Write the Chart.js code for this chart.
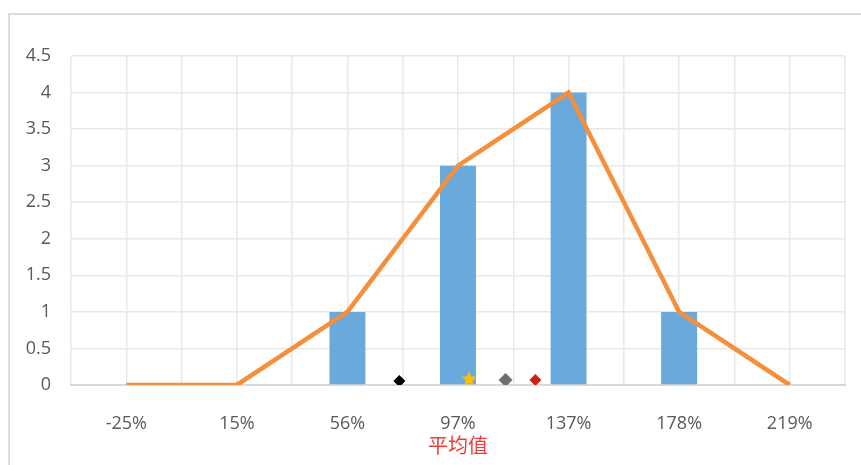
<!DOCTYPE html>
<html>
<head>
<meta charset="utf-8">
<script src="https://cdn.jsdelivr.net/npm/chart.js@4/dist/chart.umd.min.js"></script>
<style>
  html, body { margin: 0; padding: 0; background: #fff; }
  #wrap { position: relative; width: 861px; height: 465px; overflow: hidden; }
  #frame { position: absolute; left: 8px; top: 13px; width: 900px; height: 500px;
           border-left: 2px solid #dcdcdc; border-top: 2px solid #dcdcdc; }
  #chart { position: absolute; left: 0; top: 0; }
</style>
</head>
<body>
<div id="wrap">
  <div id="frame"></div>
  <canvas id="chart" width="861" height="465"></canvas>
</div>
<script>
// category labels and counts
const categories = ['-25%', '15%', '56%', '97%', '137%', '178%', '219%'];
const counts = [0, 0, 1, 3, 4, 1, 0];

// marker positions (x in category index units, y value)
const markerX = [2.47, 3.10, 3.43, 3.70];
const markerY = [0.055, 0.09, 0.07, 0.07];
const markerColors = ['#000000', '#FFC000', '#6f6f6f', '#D01F10'];
const markerStyles = ['rectRot', 'star5', 'rectRot', 'rectRot'];
const markerRadius = [6, 8, 7, 6];

const yTicks = [0, 0.5, 1, 1.5, 2, 2.5, 3, 3.5, 4, 4.5];

function makeStar(color, r) {
  const c = document.createElement('canvas');
  const s = Math.ceil(r * 2) + 2;
  c.width = s; c.height = s;
  const g = c.getContext('2d');
  const cx = s / 2, cy = s / 2 + 0.8;
  g.beginPath();
  for (let i = 0; i < 10; i++) {
    const rad = i % 2 === 0 ? r : r * 0.45;
    const a = -Math.PI / 2 + i * Math.PI / 5;
    const x = cx + rad * Math.cos(a), y = cy + rad * Math.sin(a);
    if (i === 0) g.moveTo(x, y); else g.lineTo(x, y);
  }
  g.closePath();
  g.fillStyle = color;
  g.fill();
  return c;
}

const pointStyles = markerStyles.map((s, i) => s === 'star5' ? makeStar(markerColors[i], markerRadius[i]) : s);

const tickFont = { family: '"Open Sans", sans-serif', size: 18 };

new Chart(document.getElementById('chart'), {
  data: {
    labels: categories,
    datasets: [
      {
        type: 'scatter',
        xAxisID: 'x2',
        yAxisID: 'y',
        order: 0,
        data: markerX.map((x, i) => ({ x: x, y: markerY[i] })),
        pointStyle: pointStyles,
        pointRadius: markerRadius,
        backgroundColor: markerColors,
        borderColor: markerColors,
        borderWidth: 0
      },
      {
        type: 'line',
        xAxisID: 'x',
        order: 1,
        data: counts,
        borderColor: '#F58F3B',
        borderWidth: 4.5,
        pointRadius: 0,
        tension: 0,
        fill: false
      },
      {
        type: 'bar',
        xAxisID: 'x',
        order: 2,
        data: counts,
        backgroundColor: '#6AA9DB',
        grouped: false,
        categoryPercentage: 1,
        barPercentage: 0.325
      }
    ]
  },
  options: {
    responsive: false,
    animation: false,
    layout: { padding: { top: 56, right: 16, left: 0, bottom: 0 } },
    plugins: {
      legend: { display: false },
      tooltip: { enabled: false }
    },
    scales: {
      x: {
        type: 'category',
        position: 'bottom',
        offset: true,
        grid: { display: false },
        border: { display: true, color: '#d9d9d9', width: 2 },
        ticks: { color: '#595959', font: tickFont, padding: 20, maxRotation: 0 },
        title: {
          display: true,
          text: '平均值',
          color: '#F23A3A',
          font: { family: '"Noto Sans CJK SC", sans-serif', size: 20 },
          padding: { top: 0, bottom: 8 }
        },
        afterFit: s => { s.height = 80; }
      },
      x2: {
        type: 'linear',
        position: 'bottom',
        min: -0.5,
        max: 6.5,
        grid: { color: '#e8e8e8', lineWidth: 1.5, drawTicks: false },
        border: { display: false },
        ticks: { display: false, stepSize: 0.5 },
        afterFit: s => { s.height = 0; }
      },
      y: {
        min: 0,
        max: 4.5,
        grid: { color: '#e8e8e8', lineWidth: 1.5, drawTicks: false },
        border: { display: false },
        afterBuildTicks: s => { s.ticks = yTicks.map(v => ({ value: v })); },
        ticks: { color: '#595959', font: tickFont, padding: 20, callback: v => String(v) },
        afterFit: s => { s.width = 71; }
      }
    }
  }
});
</script>
</body>
</html>
